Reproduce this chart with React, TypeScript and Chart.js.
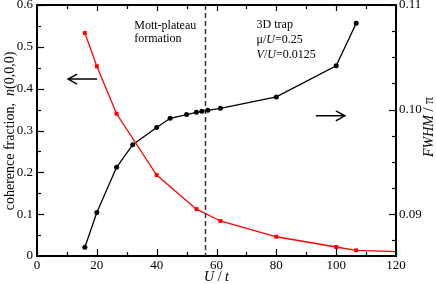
import React, { useEffect, useRef } from "react";
import { Chart, registerables } from "chart.js";

Chart.register(...registerables);

// Data
const redX = [16, 20, 26.6, 40, 53.3, 61.3, 80, 100, 106.7, 120];
const redY = [0.533, 0.4535, 0.34, 0.1936, 0.112, 0.0837, 0.046, 0.0215, 0.0136, 0.0103];
const blackX = [16, 20, 26.6, 32, 40, 44.5, 50, 53.3, 55.1, 57.1, 61.3, 80, 100, 106.7];
const blackY = [0.08683, 0.09016, 0.09448, 0.09664, 0.09829, 0.09917, 0.09952, 0.09974, 0.09984, 0.09993, 0.10012, 0.10121, 0.10419, 0.10826];
const rightTicks = [0.09, 0.1, 0.11];
const xMinorTicks = [0, 10, 20, 30, 40, 50, 60, 70, 80, 90, 100, 110, 120];
const leftMinorTicks = [0, 0.05, 0.1, 0.15, 0.2, 0.25, 0.3, 0.35, 0.4, 0.45, 0.5, 0.55, 0.6];
const rightMinorTicks = [0.0875, 0.09, 0.0925, 0.095, 0.0975, 0.1, 0.1025, 0.105, 0.1075, 0.11];
const mottLineX = 56;

const FONT = '"Liberation Serif", "Times New Roman", serif';

type Part = [string, boolean];

function drawRich(ctx: CanvasRenderingContext2D, parts: Part[], x: number, y: number, size: number, align: "left" | "center") {
  let total = 0;
  const widths = parts.map(([t, it]) => {
    ctx.font = `${it ? "italic " : ""}${size}px ${FONT}`;
    const w = ctx.measureText(t).width;
    total += w;
    return w;
  });
  let cx = align === "center" ? x - total / 2 : x;
  ctx.textAlign = "left";
  ctx.textBaseline = "middle";
  parts.forEach(([t, it], i) => {
    ctx.font = `${it ? "italic " : ""}${size}px ${FONT}`;
    ctx.fillText(t, cx, y);
    cx += widths[i];
  });
}

const isMajor = (v: number, step: number) => Math.abs(v / step - Math.round(v / step)) < 1e-6;

const decorPlugin = {
  id: "decor",
  afterDraw(chart: any) {
    const ctx: CanvasRenderingContext2D = chart.ctx;
    const area = chart.chartArea;
    const L = area.left, R = area.right, T = area.top, B = area.bottom;
    const xs = chart.scales.x;
    const yl = chart.scales.y;
    const yr = chart.scales.y1;
    ctx.save();

    // frame
    ctx.strokeStyle = "rgb(0,0,0)";
    ctx.lineWidth = 2;
    ctx.setLineDash([]);
    ctx.beginPath();
    ctx.moveTo(L, T);
    ctx.lineTo(R, T);
    ctx.lineTo(R, B);
    ctx.lineTo(L, B);
    ctx.closePath();
    ctx.stroke();

    // ticks (inward)
    ctx.lineWidth = 1.2;
    const major = 7, minor = 4;
    xMinorTicks.forEach((v) => {
      const px = Math.round(xs.getPixelForValue(v)) + 0.5;
      const maj = isMajor(v, 20);
      ctx.beginPath();
      ctx.moveTo(px, B);
      ctx.lineTo(px, B - (maj ? major : minor));
      ctx.moveTo(px, T);
      ctx.lineTo(px, T + (maj ? 6 : 4));
      ctx.stroke();
    });
    leftMinorTicks.forEach((v) => {
      const py = Math.round(yl.getPixelForValue(v)) + 0.5;
      ctx.beginPath();
      ctx.moveTo(L, py);
      ctx.lineTo(L + (isMajor(v, 0.1) ? major : minor), py);
      ctx.stroke();
    });
    rightMinorTicks.forEach((v) => {
      const py = Math.round(yr.getPixelForValue(v)) + 0.5;
      ctx.beginPath();
      ctx.moveTo(R, py);
      ctx.lineTo(R - (isMajor(v, 0.01) ? major : minor), py);
      ctx.stroke();
    });

    // dashed vertical line
    const dx = Math.round(xs.getPixelForValue(mottLineX)) + 0.5;
    ctx.strokeStyle = "#333333";
    ctx.lineWidth = 1.5;
    ctx.setLineDash([5, 3]);
    ctx.beginPath();
    ctx.moveTo(dx, T);
    ctx.lineTo(dx, B);
    ctx.stroke();
    ctx.setLineDash([]);

    // arrows
    const arrow = (x0: number, x1: number, yv: number) => {
      const p0 = xs.getPixelForValue(x0);
      const p1 = xs.getPixelForValue(x1);
      const py = yl.getPixelForValue(yv);
      const dir = Math.sign(p1 - p0);
      ctx.strokeStyle = "#000";
      ctx.lineWidth = 1.5;
      ctx.beginPath();
      ctx.moveTo(p0, py); ctx.lineTo(p1, py);
      ctx.moveTo(p1 - dir * 9, py - 5); ctx.lineTo(p1, py); ctx.lineTo(p1 - dir * 9, py + 5);
      ctx.stroke();
    };
    arrow(20.1, 10.4, 0.423);
    arrow(93.2, 102.9, 0.335);

    // annotations
    ctx.fillStyle = "#000";
    const tx = (v: number) => xs.getPixelForValue(v);
    const ty = (v: number) => yl.getPixelForValue(v);
    drawRich(ctx, [["Mott-plateau", false]], tx(32.5), ty(0.55), 12, "left");
    drawRich(ctx, [["formation", false]], tx(32.5), ty(0.519), 12, "left");
    drawRich(ctx, [["3D trap", false]], tx(73.4), ty(0.552), 12, "left");
    drawRich(ctx, [["μ/", false], ["U", true], ["=0.25", false]], tx(73.4), ty(0.516), 12, "left");
    drawRich(ctx, [["V", true], ["/", false], ["U", true], ["=0.0125", false]], tx(73.4), ty(0.48), 12, "left");

    // axis titles
    drawRich(ctx, [["U", true], [" / ", false], ["t", true]], (L + R) / 2, 277, 14, "center");
    ctx.save();
    ctx.translate(10, 131);
    ctx.rotate(-Math.PI / 2);
    drawRich(ctx, [["coherence fraction,  ", false], ["n", true], ["(0,0,0)", false]], 0, 0, 14, "center");
    ctx.restore();
    ctx.save();
    ctx.translate(429, 127);
    ctx.rotate(-Math.PI / 2);
    drawRich(ctx, [["FWHM", true], [" / π", false]], 0, 0, 14, "center");
    ctx.restore();

    ctx.restore();
  },
};

export default function App() {
  const ref = useRef<HTMLCanvasElement | null>(null);
  useEffect(() => {
    if (!ref.current) return;
    const tickFont = { family: FONT, size: 13 };
    const noGrid = { display: false, drawTicks: false, drawOnChartArea: false, tickLength: 0 };
    const axisBorder = { display: true, color: "#000", width: 1.5 };
    const chart = new Chart(ref.current, {
      type: "line",
      data: {
        datasets: [
          {
            data: redX.map((x, i) => ({ x, y: redY[i] })),
            borderColor: "#ff0000",
            backgroundColor: "#ff0000",
            borderWidth: 1.3,
            pointStyle: "rect",
            pointRadius: redX.map((x) => (x >= 120 ? 0 : 2.8)),
            pointBorderWidth: 0,
            yAxisID: "y",
            tension: 0,
          },
          {
            data: blackX.map((x, i) => ({ x, y: blackY[i] })),
            borderColor: "#000",
            backgroundColor: "#000",
            borderWidth: 1.3,
            pointStyle: "circle",
            pointRadius: 2.5,
            pointBorderWidth: 0,
            yAxisID: "y1",
            tension: 0,
          },
        ],
      },
      options: {
        animation: false,
        responsive: false,
        maintainAspectRatio: false,
        layout: { padding: { top: 5, left: 0, right: 0, bottom: 0 } },
        plugins: { legend: { display: false }, tooltip: { enabled: false } },
        scales: {
          x: {
            type: "linear", min: 0, max: 120, grid: noGrid, border: axisBorder,
            ticks: { stepSize: 20, font: tickFont, color: "#000", padding: 2, maxRotation: 0 },
            afterFit: (s: any) => { s.height = 28; s.paddingLeft = 0; s.paddingRight = 0; },
          },
          y: {
            type: "linear", position: "left", min: 0, max: 0.6, grid: noGrid, border: axisBorder,
            ticks: { stepSize: 0.1, font: tickFont, color: "#000", padding: 4,
              callback: (v: any) => (Math.abs(v) < 1e-9 ? "0" : Number(v).toFixed(1)) },
            afterFit: (s: any) => { s.width = 37; s.paddingTop = 0; s.paddingBottom = 0; },
          },
          y1: {
            type: "linear", position: "right", min: 0.086, max: 0.11, grid: noGrid, border: axisBorder,
            afterBuildTicks: (s: any) => { s.ticks = rightTicks.map((v) => ({ value: v })); },
            ticks: { font: tickFont, color: "#000", padding: 3, callback: (v: any) => Number(v).toFixed(2) },
            afterFit: (s: any) => { s.width = 40; s.paddingTop = 0; s.paddingBottom = 0; },
          },
        },
      } as any,
      plugins: [decorPlugin],
    });
    return () => chart.destroy();
  }, []);
  return (
    <div style={{ position: "absolute", left: 0, top: 0, width: 436, height: 284, background: "#fff" }}>
      <canvas ref={ref} width={436} height={284} style={{ width: 436, height: 284 }} />
    </div>
  );
}
